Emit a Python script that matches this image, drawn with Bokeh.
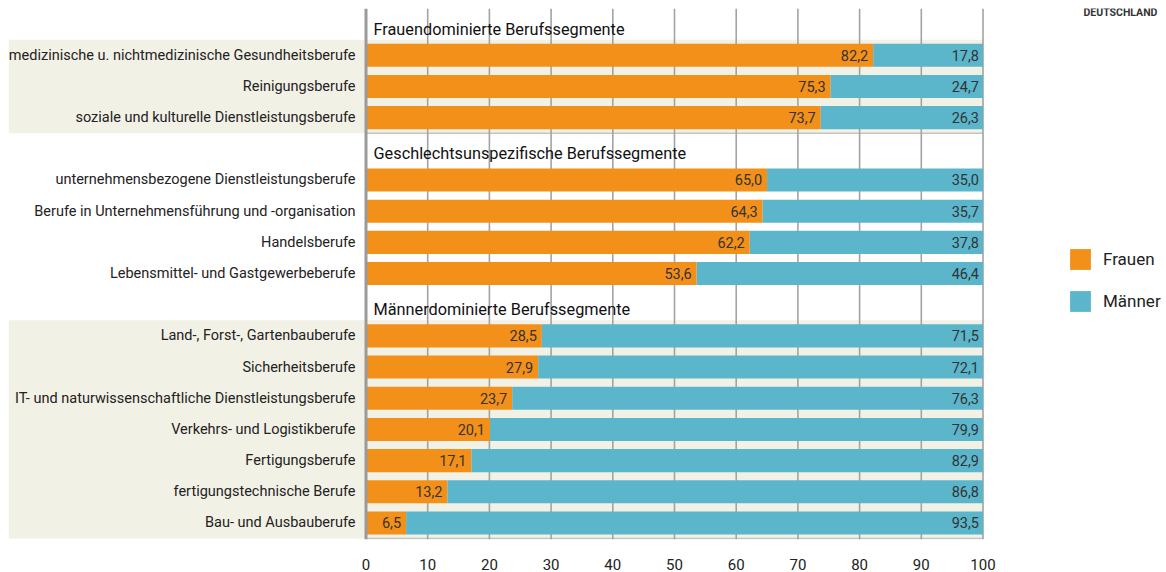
from bokeh.plotting import figure
from bokeh.models import Range1d, Legend, LegendItem, FixedTicker, ColumnDataSource, Label
from bokeh.core.properties import value
from bokeh.embed import file_html
from bokeh.resources import INLINE

groups = ["Frauendominierte Berufssegmente",
          "Geschlechtsunspezifische Berufssegmente",
          "Männerdominierte Berufssegmente"]
group_sizes = [3, 4, 7]
categories = [
    "medizinische u. nichtmedizinische Gesundheitsberufe",
    "Reinigungsberufe",
    "soziale und kulturelle Dienstleistungsberufe",
    "unternehmensbezogene Dienstleistungsberufe",
    "Berufe in Unternehmensführung und -organisation",
    "Handelsberufe",
    "Lebensmittel- und Gastgewerbeberufe",
    "Land-, Forst-, Gartenbauberufe",
    "Sicherheitsberufe",
    "IT- und naturwissenschaftliche Dienstleistungsberufe",
    "Verkehrs- und Logistikberufe",
    "Fertigungsberufe",
    "fertigungstechnische Berufe",
    "Bau- und Ausbauberufe",
]
frauen = [82.2, 75.3, 73.7, 65.0, 64.3, 62.2, 53.6, 28.5, 27.9, 23.7, 20.1, 17.1, 13.2, 6.5]
maenner = [17.8, 24.7, 26.3, 35.0, 35.7, 37.8, 46.4, 71.5, 72.1, 76.3, 79.9, 82.9, 86.8, 93.5]
ticks = [0, 10, 20, 30, 40, 50, 60, 70, 80, 90, 100]
legend_labels = ["Frauen", "Männer"]
corner_text = "DEUTSCHLAND"

ORANGE = "#F39019"
BLUE = "#5BB6CB"
BAND = "#F2F1E6"
FONT = "Roboto"

# slot layout: each group gets a header slot followed by its rows
slot = 0
header_slots, row_slots, band_ranges = [], [], []
for gi, n in enumerate(group_sizes):
    header_slots.append(slot)
    slot += 1
    row_slots.extend(range(slot, slot + n))
    if gi != 1:
        band_ranges.append((slot - 0.5, slot + n - 0.5))
    slot += n

y_top = -0.5
y_bot = row_slots[-1] + 0.53
x_left = -57.94
x_right = 129.74

p = figure(width=1166, height=572, output_backend="svg", toolbar_location=None,
           x_range=Range1d(x_left, x_right), y_range=Range1d(y_bot, y_top),
           y_axis_location=None, min_border_left=8, min_border_right=0,
           min_border_top=8, min_border_bottom=31)
p.outline_line_color = None
p.xgrid.visible = False
p.ygrid.visible = False
p.background_fill_color = "white"

# beige bands
p.quad(left=[x_left] * len(band_ranges), right=[100] * len(band_ranges),
       top=[b[0] for b in band_ranges], bottom=[b[1] for b in band_ranges],
       fill_color=BAND, line_color=None)
p.segment(x0=[0] * len(band_ranges), x1=[100] * len(band_ranges),
          y0=[b[1] for b in band_ranges], y1=[b[1] for b in band_ranges],
          line_color="#c4c4c0", line_width=1.5)

# gridlines
p.segment(x0=ticks[1:], x1=ticks[1:], y0=[y_top] * (len(ticks) - 1), y1=[y_bot] * (len(ticks) - 1),
          line_color="#a3a3a3", line_width=1.6)

src = ColumnDataSource(dict(
    y=row_slots, cat=categories, f=frauen, m=maenner,
    mright=[a + b for a, b in zip(frauen, maenner)],
    flab=[f"{v:.1f}".replace(".", ",") for v in frauen],
    mlab=[f"{v:.1f}".replace(".", ",") for v in maenner],
    zero=[0] * len(frauen),
))

rf = p.hbar(y="y", left="zero", right="f", height=0.74, source=src,
            fill_color=ORANGE, line_color=None)
rm = p.hbar(y="y", left="f", right="mright", height=0.74, source=src,
            fill_color=BLUE, line_color=None)

# zero axis line
p.segment(x0=[0], x1=[0], y0=[y_top], y1=[y_bot], line_color="#9a9a9a", line_width=3)

# value labels
p.text(x="f", y="y", text="flab", source=src, x_offset=-5, text_align="right",
       text_baseline="middle", text_font=value(FONT), text_font_size="14.5px", text_color="#333333")
p.text(x="mright", y="y", text="mlab", source=src, x_offset=-4, text_align="right",
       text_baseline="middle", text_font=value(FONT), text_font_size="14.5px", text_color="#333333")

# category labels
p.text(x=[-1.7] * len(categories), y=row_slots, text=categories, text_align="right",
       text_baseline="middle", text_font=value(FONT), text_font_size="14.5px", text_color="#222222")

# group headers
p.text(x=[1.22] * len(groups), y=header_slots, text=groups, y_offset=5, text_align="left",
       text_baseline="middle", text_font=value(FONT), text_font_size="16.3px", text_color="#111111")

# x axis
p.xaxis.ticker = FixedTicker(ticks=ticks)
p.xaxis.axis_line_color = None
p.xaxis.major_tick_line_color = None
p.xaxis.minor_tick_line_color = None
p.xaxis.major_label_standoff = 13
p.xaxis.major_label_text_font = FONT
p.xaxis.major_label_text_font_size = "15px"
p.xaxis.major_label_text_color = "#222222"

legend = Legend(items=[LegendItem(label=legend_labels[0], renderers=[rf]),
                       LegendItem(label=legend_labels[1], renderers=[rm])],
                location=(1059, 225), glyph_width=26, glyph_height=26, spacing=16,
                label_standoff=10, padding=0, margin=0, border_line_color=None,
                background_fill_alpha=0, label_text_font=FONT, label_text_font_size="17px",
                label_text_color="#222222")
p.add_layout(legend)

# corner caption (cut at the page top in the reference; kept fully visible here)
p.add_layout(Label(x=1075, y=521, x_units="screen", y_units="screen", text=corner_text,
                   text_baseline="bottom", text_font=FONT, text_font_size="10.5px",
                   text_font_style="bold", text_color="#333333"))

open("out.html", "w").write(file_html(p, INLINE))
